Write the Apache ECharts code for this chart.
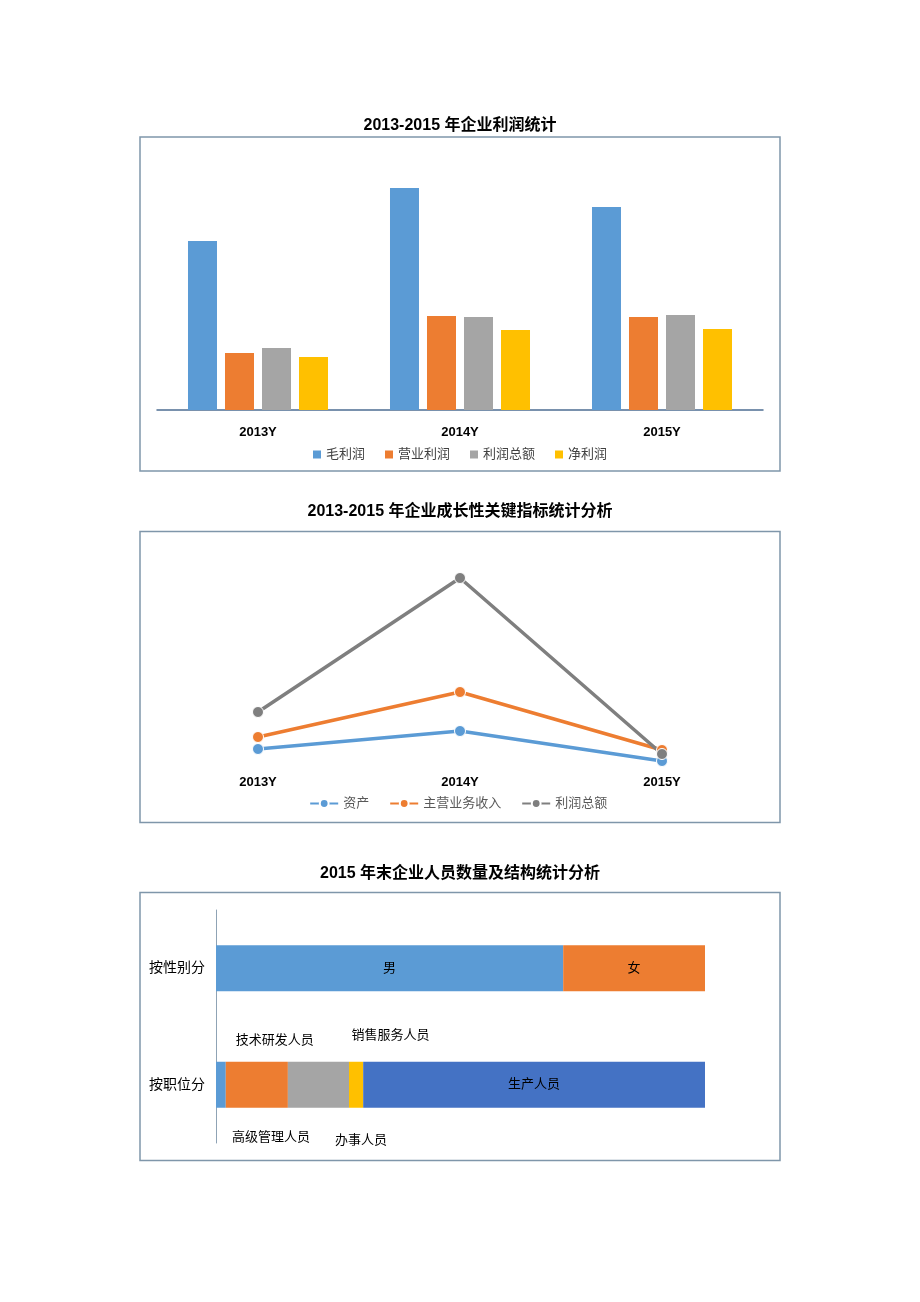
<!DOCTYPE html>
<html><head><meta charset="utf-8">
<script src="https://cdn.jsdelivr.net/npm/echarts@6/dist/echarts.min.js"></script>
<style>html,body{margin:0;padding:0;background:#fff}#c{width:920px;height:1302px}</style>
</head><body><div id="c"></div>
<script>
// ---- Chart 1 data ----
const years = ['2013Y', '2014Y', '2015Y'];
const grossProfit = [169, 222, 203];      // 毛利润
const operatingProfit = [57, 94, 93];     // 营业利润
const totalProfit = [62, 93, 95];         // 利润总额
const netProfit = [53, 80, 81];           // 净利润
// ---- Chart 2 data ----
const assets = [21, 39, 9];               // 资产
const mainRevenue = [33, 78, 20];         // 主营业务收入
const profitTotal = [58, 192, 16];        // 利润总额
// ---- Chart 3 data ----
const staffCats = ['按性别分', '按职位分'];
const male = [71, '-'];
const female = [29, '-'];
const seniorMgmt = ['-', 2];
const rnd = ['-', 12.7];
const sales = ['-', 12.5];
const office = ['-', 2.9];
const production = ['-', 69.9];

const FONT = '"Liberation Sans", Arial, "Noto Sans CJK SC", sans-serif';
const C = {blue:'#5B9BD5', orange:'#ED7D31', gray:'#A5A5A5', yellow:'#FFC000', dblue:'#4472C4', lgray:'#7F7F7F'};
const chart = echarts.init(document.getElementById('c'), null, {renderer:'canvas'});

function barS(name, data, color){
  return {name, type:'bar', xAxisIndex:0, yAxisIndex:0, data, barWidth:29, barGap:'27.6%',
    itemStyle:{color}, emphasis:{disabled:true}};
}
function lineS(name, data, color){
  return {name, type:'line', xAxisIndex:1, yAxisIndex:1, data, symbol:'circle', symbolSize:11,
    lineStyle:{width:3.5, color}, itemStyle:{color, borderColor:'#fff', borderWidth:1},
    emphasis:{disabled:true}, z:3};
}
function stackS(name, data, color, label){
  return {name, type:'bar', xAxisIndex:2, yAxisIndex:2, data, stack:'total', barWidth:46,
    itemStyle:{color}, emphasis:{disabled:true},
    label:Object.assign({show:true, formatter:name, color:'#000', fontSize:13, fontFamily:FONT}, label||{})};
}
const titleStyle = {fontSize:16, fontWeight:'bold', color:'#000', fontFamily:FONT};

const option = {
  animation:false,
  textStyle:{fontFamily:FONT},
  graphic:[
    {type:'rect', shape:{x:140, y:137, width:640, height:334}, style:{fill:'none', stroke:'#7F96AA', lineWidth:1.5}},
    {type:'rect', shape:{x:140, y:531.5, width:640, height:291}, style:{fill:'none', stroke:'#7F96AA', lineWidth:1.5}},
    {type:'rect', shape:{x:140, y:892.5, width:640, height:268}, style:{fill:'none', stroke:'#7F96AA', lineWidth:1.5}}
  ],
  title:[
    {text:'2013-2015 年企业利润统计', left:'center', top:113, textStyle:titleStyle},
    {text:'2013-2015 年企业成长性关键指标统计分析', left:'center', top:499, textStyle:titleStyle},
    {text:'2015 年末企业人员数量及结构统计分析', left:'center', top:861, textStyle:titleStyle}
  ],
  legend:[
    {left:'center', top:443, itemWidth:8, itemHeight:8, itemGap:20, icon:'rect',
     data:['毛利润','营业利润','利润总额','净利润'],
     textStyle:{fontSize:13, color:'#404040', fontFamily:FONT}},
    {left:'center', top:792, itemWidth:28, itemHeight:11, itemGap:20,
     data:['资产','主营业务收入','利润总额 '],
     textStyle:{fontSize:13, color:'#595959', fontFamily:FONT}}
  ],
  grid:[
    {left:157, right:157, top:160, bottom:892, containLabel:false},
    {left:157, right:157, top:570, bottom:532, containLabel:false},
    {left:216, right:215, top:910, bottom:159, containLabel:false}
  ],
  xAxis:[
    {type:'category', gridIndex:0, data:years, axisTick:{show:false},
     axisLine:{lineStyle:{color:'#4E6E92', width:1.5}},
     axisLabel:{fontSize:13, fontWeight:'bold', color:'#000', margin:16, fontFamily:FONT}},
    {type:'category', gridIndex:1, data:years, axisTick:{show:false}, axisLine:{show:false},
     axisLabel:{fontSize:13, fontWeight:'bold', color:'#000', margin:6, fontFamily:FONT}},
    {type:'value', gridIndex:2, min:0, max:100, show:false, splitLine:{show:false}}
  ],
  yAxis:[
    {type:'value', gridIndex:0, min:0, max:250, show:false},
    {type:'value', gridIndex:1, min:0, max:200, show:false},
    {type:'category', gridIndex:2, data:staffCats, inverse:true, axisTick:{show:false},
     axisLine:{lineStyle:{color:'#8FA3B5', width:1}},
     axisLabel:{fontSize:14, color:'#000', margin:11, fontFamily:FONT}}
  ],
  series:[
    barS('毛利润', grossProfit, C.blue),
    barS('营业利润', operatingProfit, C.orange),
    barS('利润总额', totalProfit, C.gray),
    barS('净利润', netProfit, C.yellow),
    lineS('资产', assets, C.blue),
    lineS('主营业务收入', mainRevenue, C.orange),
    lineS('利润总额 ', profitTotal, C.lgray),
    stackS('男', male, C.blue, {position:'inside'}),
    stackS('女', female, C.orange, {position:'inside'}),
    stackS('高级管理人员', seniorMgmt, C.blue, {position:'inside', offset:[50,53]}),
    stackS('技术研发人员', rnd, C.orange, {position:'inside', offset:[18,-44]}),
    stackS('销售服务人员', sales, C.gray, {position:'inside', offset:[72,-49]}),
    stackS('办事人员', office, C.yellow, {position:'inside', offset:[5,56]}),
    stackS('生产人员', production, C.dblue, {position:'inside'})
  ]
};
chart.setOption(option);
</script>
</body></html>
